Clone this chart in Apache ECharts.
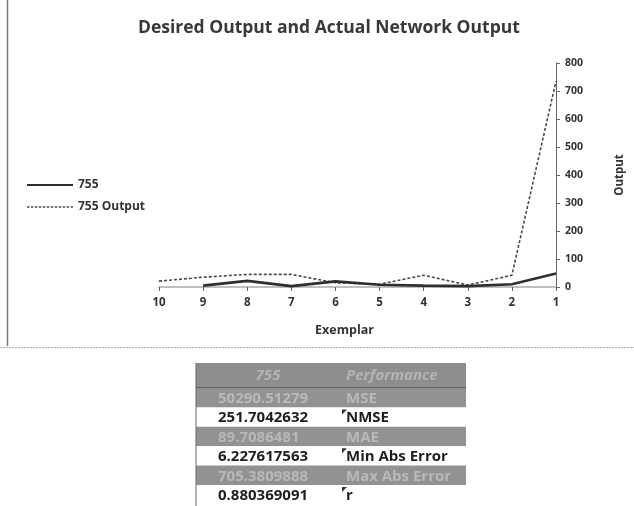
<!DOCTYPE html>
<html>
<head>
<meta charset="utf-8">
<script src="https://cdn.jsdelivr.net/npm/echarts@6/dist/echarts.min.js"></script>
<style>
html,body{margin:0;padding:0;background:#fff;}
#c{width:634px;height:506px;}
</style>
</head>
<body>
<div id="c"></div>
<script>
const categories = ["10","9","8","7","6","5","4","3","2","1"];
const desired = [null, 5, 22, 3, 20, 8, 5, 3, 10, 48];
const networkOutput = [21, 35, 45, 45, 15, 10, 42, 7, 42, 735];
const yTicks = [0, 100, 200, 300, 400, 500, 600, 700, 800];
const tableHeader = ["755", "Performance"];
const tableValues = ["50290.51279", "251.7042632", "89.7086481", "6.227617563", "705.3809888", "0.880369091"];
const tableLabels = ["MSE", "NMSE", "MAE", "Min Abs Error", "Max Abs Error", "r"];

const FONT = '"Open Sans", Lato, sans-serif';
const chart = echarts.init(document.getElementById('c'), null, {renderer: 'canvas'});

let dashPath = 'path://';
for (let x = 0; x < 46; x += 4) { dashPath += 'M' + x + ',4.4 h2.4 v1.4 h-2.4 Z '; }

const tX = 196, tW = 270, tDiv = 340, tTop = 363, hH = 25, rH = 19.4;
const gfx = [];
gfx.push({type:'line', shape:{x1:7.5,y1:0,x2:7.5,y2:346}, style:{stroke:'#777', lineWidth:1.5}, silent:true});
gfx.push({type:'line', shape:{x1:0,y1:347.5,x2:634,y2:347.5}, style:{stroke:'#aaa', lineWidth:1, lineDash:[2,1]}, silent:true});
gfx.push({type:'rect', shape:{x:tX,y:tTop,width:tW,height:hH}, style:{fill:'#8e8e8e'}, silent:true});
gfx.push({type:'text', x:268, y:tTop+hH/2, style:{text:tableHeader[0], font:'italic bold 15px '+FONT, fill:'#b4b4b4', align:'center', verticalAlign:'middle'}, silent:true});
gfx.push({type:'text', x:tDiv+6, y:tTop+hH/2, style:{text:tableHeader[1], font:'italic bold 15px '+FONT, fill:'#b4b4b4', align:'left', verticalAlign:'middle'}, silent:true});
gfx.push({type:'line', shape:{x1:tX,y1:tTop+hH,x2:tX+tW,y2:tTop+hH}, style:{stroke:'#555', lineWidth:1.5}, silent:true});
tableValues.forEach(function(v, i){
  const y = tTop + hH + i*rH;
  const shaded = (i % 2 === 0);
  gfx.push({type:'rect', shape:{x:tX,y:y,width:tW,height:rH}, style:{fill: shaded ? '#929292' : '#ffffff'}, silent:true});
  const col = shaded ? '#b9b9b9' : '#1e1e1e';
  gfx.push({type:'text', x:tX+22, y:y+rH/2+1, style:{text:v, font:'bold 15px '+FONT, fill:col, align:'left', verticalAlign:'middle'}, silent:true});
  gfx.push({type:'text', x:tDiv+6, y:y+rH/2+1, style:{text:tableLabels[i], font:'bold 15px '+FONT, fill:col, align:'left', verticalAlign:'middle'}, silent:true});
  if (!shaded) {
    gfx.push({type:'polygon', shape:{points:[[tDiv+2,y+2],[tDiv+7,y+2],[tDiv+2,y+7]]}, style:{fill:'#333'}, silent:true});
  }
});
gfx.push({type:'line', shape:{x1:tX,y1:tTop,x2:tX,y2:506}, style:{stroke:'#666', lineWidth:1}, silent:true});

chart.setOption({
  animation: false,
  backgroundColor: '#ffffff',
  title: {
    text: 'Desired Output and Actual Network Output',
    left: 133, top: 14,
    textStyle: {fontFamily: FONT, fontWeight: 'bold', fontSize: 17.5, color: '#383838'}
  },
  legend: {
    orient: 'vertical', left: 22, top: 174,
    itemWidth: 46, itemHeight: 10, itemGap: 10,
    textStyle: {fontFamily: FONT, fontWeight: 'bold', fontSize: 12, color: '#333'},
    data: [
      {name: '755', icon: 'path://M0,4 L46,4 L46,6 L0,6 Z'},
      {name: '755 Output', icon: dashPath}
    ]
  },
  grid: {left: 159, right: 76, top: 63, bottom: 219, containLabel: false},
  xAxis: {
    type: 'category', data: categories, boundaryGap: false,
    name: 'Exemplar', nameLocation: 'middle', nameGap: 37,
    nameTextStyle: {fontFamily: FONT, fontWeight: 'bold', fontSize: 12.5, color: '#333', padding: [0, 26, 0, 0]},
    axisLine: {lineStyle: {color: '#aaa', width: 1.5}},
    axisTick: {show: true, length: 4, lineStyle: {color: '#666'}},
    axisLabel: {fontFamily: FONT, fontWeight: 'bold', fontSize: 11.5, color: '#333', margin: 10}
  },
  yAxis: {
    type: 'value', position: 'right', min: 0, max: 800, interval: 100,
    name: 'Output', nameLocation: 'middle', nameGap: 58, nameRotate: 90,
    nameTextStyle: {fontFamily: FONT, fontWeight: 'bold', fontSize: 11.5, color: '#333'},
    axisLine: {show: true, lineStyle: {color: '#666', width: 1}},
    axisTick: {show: true, length: 4, lineStyle: {color: '#666'}},
    splitLine: {show: false},
    axisLabel: {fontFamily: FONT, fontWeight: 'bold', fontSize: 10.5, color: '#333', margin: 9,
      formatter: function(v){ return yTicks.indexOf(v) >= 0 ? String(v) : ''; }}
  },
  series: [
    {name: '755', type: 'line', data: desired, symbol: 'none', connectNulls: false,
      lineStyle: {color: '#2e2e2e', width: 2.6}, itemStyle: {color: '#2e2e2e'}, z: 3},
    {name: '755 Output', type: 'line', data: networkOutput, symbol: 'none',
      lineStyle: {color: '#4a4a4a', width: 1.6, type: [3, 2]}, itemStyle: {color: '#4a4a4a'}, z: 2}
  ],
  graphic: gfx
});
</script>
</body>
</html>
